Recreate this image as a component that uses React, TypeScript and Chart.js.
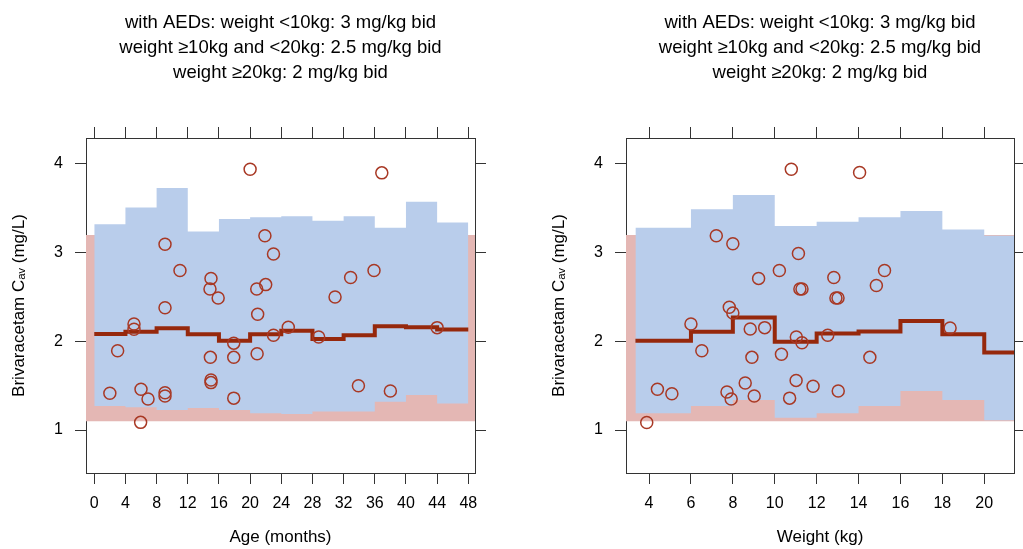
import React, { useEffect, useRef } from 'react';
import { Chart, registerables } from 'chart.js';

Chart.register(...registerables);

const FONT = '"Liberation Sans", Arial, Helvetica, sans-serif';

// ---- shared text / values ----
const titleLines = [
  'with AEDs: weight <10kg: 3 mg/kg bid',
  'weight ≥10kg and <20kg: 2.5 mg/kg bid',
  'weight ≥20kg: 2 mg/kg bid',
];
const yAxisTitle = 'Brivaracetam Cₐᵥ (mg/L)';
const yTicks = [1, 2, 3, 4];
const adultLow = 1.1;
const adultHigh = 3.2;

// ---- age panel ----
const ageAxisTitle = 'Age (months)';
const ageTicks = [0, 4, 8, 12, 16, 20, 24, 28, 32, 36, 40, 44, 48];
const ageBinEdges = [0, 4, 8, 12, 16, 20, 24, 28, 32, 36, 40, 44, 48];
const ageUpper = [3.32, 3.51, 3.73, 3.24, 3.38, 3.40, 3.41, 3.36, 3.41, 3.28, 3.575, 3.34];
const ageLower = [1.27, 1.256, 1.225, 1.25, 1.225, 1.19, 1.18, 1.21, 1.21, 1.32, 1.395, 1.30];
const ageMedian = [2.082, 2.108, 2.147, 2.08, 2.007, 2.08, 2.12, 2.026, 2.07, 2.17, 2.158, 2.135];
const ageObsX = [
  2.0, 3.0, 5.1, 5.1, 6.0, 6.9, 5.95, 9.08, 9.08, 9.08, 9.08, 11.0, 14.98, 14.85, 15.9, 14.9, 14.98, 14.98, 17.9,
  17.9, 17.9, 20.0, 20.85, 20.97, 20.9, 21.9, 22.0, 23.0, 23.0, 24.9, 28.8, 30.9, 32.9, 33.9, 35.9, 36.9, 38.0, 44.0,
];
const ageObsY = [
  1.415, 1.895, 2.196, 2.136, 1.46, 1.35, 1.087, 3.095, 2.38, 1.42, 1.385, 2.80, 2.71, 2.59, 2.49, 1.82, 1.565, 1.535,
  1.98, 1.82, 1.36, 3.94, 2.59, 2.305, 1.86, 3.19, 2.64, 2.985, 2.07, 2.16, 2.05, 2.50, 2.72, 1.50, 2.80, 3.90, 1.44,
  2.155,
];

// ---- weight panel ----
const weightAxisTitle = 'Weight (kg)';
const weightTicks = [4, 6, 8, 10, 12, 14, 16, 18, 20];
const weightBinEdges = [3.35, 6, 8, 10, 12, 14, 16, 18, 20, 21.42];
const weightUpper = [3.28, 3.49, 3.65, 3.30, 3.35, 3.40, 3.47, 3.26, 3.19];
const weightLower = [1.19, 1.27, 1.34, 1.14, 1.19, 1.27, 1.44, 1.34, 1.11];
const weightMedian = [2.007, 2.108, 2.27, 1.995, 2.09, 2.11, 2.23, 2.08, 1.876];
const weightObsX = [
  10.79, 7.21, 8.0, 11.13, 10.22, 9.23, 11.2, 11.3, 7.83, 8.0, 14.05, 15.24, 14.85, 12.82, 12.92, 13.02, 6.0, 8.83,
  9.52, 11.03, 11.3, 6.52, 8.91, 10.32, 4.4, 5.09, 7.72, 7.92, 8.59, 9.02, 10.71, 11.02, 11.83, 3.89, 12.53, 18.37,
  14.54, 13.03,
];
const weightObsY = [
  3.94, 3.19, 3.10, 2.99, 2.80, 2.71, 2.59, 2.59, 2.385, 2.32, 3.905, 2.80, 2.63, 2.72, 2.49, 2.49, 2.195, 2.14, 2.155,
  2.05, 1.985, 1.895, 1.82, 1.855, 1.46, 1.41, 1.43, 1.35, 1.53, 1.385, 1.36, 1.56, 1.495, 1.085, 2.07, 2.15, 1.82,
  1.44,
];

const COLORS = {
  blue: 'rgb(185,205,235)',
  pink: 'rgb(228,183,180)',
  median: 'rgb(150,40,12)',
  point: 'rgb(168,56,36)',
  axis: '#333333',
  text: '#000000',
};

type Panel = {
  xTitle: string;
  xTicks: number[];
  xMin: number;
  xMax: number;
  edges: number[];
  upper: number[];
  lower: number[];
  median: number[];
  obsX: number[];
  obsY: number[];
};

const panels: Panel[] = [
  {
    xTitle: ageAxisTitle, xTicks: ageTicks, xMin: -1.06, xMax: 48.86,
    edges: ageBinEdges, upper: ageUpper, lower: ageLower, median: ageMedian, obsX: ageObsX, obsY: ageObsY,
  },
  {
    xTitle: weightAxisTitle, xTicks: weightTicks, xMin: 2.9, xMax: 21.42,
    edges: weightBinEdges, upper: weightUpper, lower: weightLower, median: weightMedian, obsX: weightObsX, obsY: weightObsY,
  },
];

const Y_MIN = 0.516;
const Y_MAX = 4.293;

function steps(edges: number[], vals: number[]) {
  return edges.map((e, i) => ({ x: e, y: vals[Math.min(i, vals.length - 1)] }));
}

function PanelChart({ panel, width, height, rightPad }: { panel: Panel; width: number; height: number; rightPad: number }) {
  const ref = useRef<HTMLCanvasElement | null>(null);
  useEffect(() => {
    if (!ref.current) return;
    const tickSetter = (vals: number[]) => (s: any) => {
      s.ticks = vals.map((v) => ({ value: v }));
    };
    const grid = { drawOnChartArea: false, drawTicks: true, tickLength: 11, color: COLORS.axis, lineWidth: 1 };
    const border = { display: true, color: COLORS.axis, width: 1 };
    const chart = new Chart(ref.current, {
      type: 'line',
      data: {
        datasets: [
          {
            data: [{ x: panel.xMin, y: adultLow }, { x: panel.xMax, y: adultLow }],
            borderWidth: 0, pointRadius: 0, fill: false, order: 5,
          },
          {
            data: [{ x: panel.xMin, y: adultHigh }, { x: panel.xMax, y: adultHigh }],
            borderWidth: 0, pointRadius: 0, fill: '-1', backgroundColor: COLORS.pink, order: 4,
          },
          {
            data: steps(panel.edges, panel.lower),
            stepped: 'before', borderWidth: 0, pointRadius: 0, fill: false, order: 3,
          },
          {
            data: steps(panel.edges, panel.upper),
            stepped: 'before', borderWidth: 0, pointRadius: 0, fill: '-1', backgroundColor: COLORS.blue, order: 2,
          },
          {
            data: steps(panel.edges, panel.median),
            stepped: 'before', borderWidth: 4, borderColor: COLORS.median, pointRadius: 0, fill: false, order: 1,
          },
          {
            data: panel.obsX.map((x, i) => ({ x, y: panel.obsY[i] })),
            showLine: false, pointRadius: 6, pointBorderWidth: 1.5, pointBorderColor: COLORS.point,
            pointBackgroundColor: 'rgba(0,0,0,0)', fill: false, order: 0,
          },
        ] as any,
      },
      options: {
        responsive: false,
        animation: false,
        devicePixelRatio: 1,
        layout: { padding: 0 },
        plugins: {
          legend: { display: false },
          tooltip: { enabled: false },
          title: {
            display: true,
            text: titleLines,
            fullSize: false,
            color: COLORS.text,
            font: { family: FONT, size: 18.5, weight: 'normal', lineHeight: '24.7px' },
            padding: { top: 11, bottom: 0 },
          },
        },
        scales: {
          x: {
            type: 'linear', position: 'bottom', min: panel.xMin, max: panel.xMax,
            afterBuildTicks: tickSetter(panel.xTicks),
            afterFit: (s: any) => { s.height = 76; },
            grid, border,
            ticks: { color: COLORS.text, font: { family: FONT, size: 16 }, padding: 10, maxRotation: 0, autoSkip: false },
            title: {
              display: true, text: panel.xTitle, color: COLORS.text,
              font: { family: FONT, size: 17 }, padding: { top: 0, bottom: 1 },
            },
          },
          x2: {
            type: 'linear', position: 'top', min: panel.xMin, max: panel.xMax,
            afterBuildTicks: tickSetter(panel.xTicks),
            afterFit: (s: any) => { s.height = 138 - 11 - 3 * 24.7; },
            grid, border,
            ticks: { display: false },
          },
          y: {
            type: 'linear', position: 'left', min: Y_MIN, max: Y_MAX,
            afterBuildTicks: tickSetter(yTicks),
            afterFit: (s: any) => { s.width = 86; },
            grid, border,
            ticks: { color: COLORS.text, font: { family: FONT, size: 16 }, padding: 12 },
            title: {
              display: true, text: yAxisTitle, color: COLORS.text,
              font: { family: FONT, size: 17 }, padding: { top: 9, bottom: 0 },
            },
          },
          y2: {
            type: 'linear', position: 'right', min: Y_MIN, max: Y_MAX,
            afterBuildTicks: tickSetter(yTicks),
            afterFit: (s: any) => { s.width = rightPad; },
            grid, border,
            ticks: { display: false },
          },
        },
      } as any,
    });
    return () => chart.destroy();
  }, [panel, width, height, rightPad]);
  return <canvas ref={ref} width={width} height={height} style={{ width, height, display: 'block' }} />;
}

export default function App() {
  return (
    <div style={{ position: 'absolute', left: 0, top: 0, width: 1023, height: 549, background: '#fff' }}>
      <div style={{ position: 'absolute', left: 0, top: 0 }}>
        <PanelChart panel={panels[0]} width={540} height={549} rightPad={65} />
      </div>
      <div style={{ position: 'absolute', left: 540, top: 0 }}>
        <PanelChart panel={panels[1]} width={483} height={549} rightPad={9} />
      </div>
    </div>
  );
}
